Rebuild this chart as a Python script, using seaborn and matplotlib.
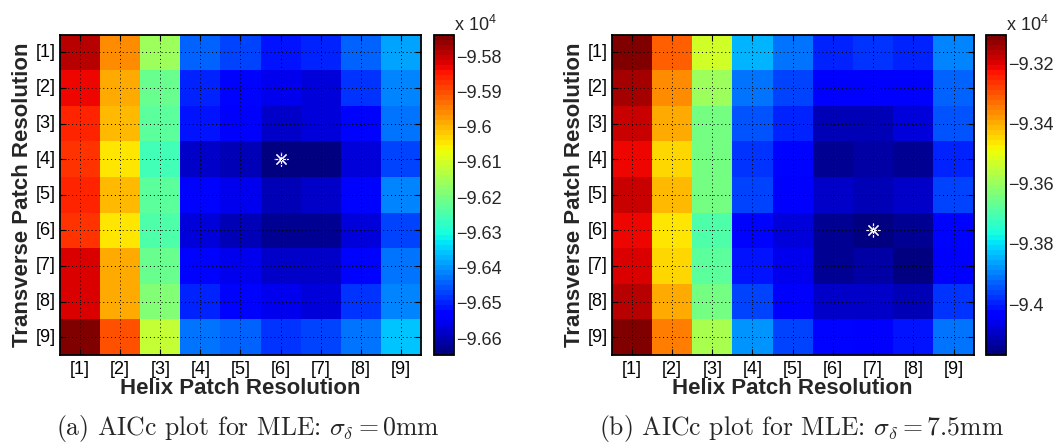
import numpy as np
import pandas as pd
import matplotlib
matplotlib.use("Agg")
import matplotlib.pyplot as plt
import seaborn as sns

# Patch-resolution levels on each axis
helix_labels = ["[1]", "[2]", "[3]", "[4]", "[5]", "[6]", "[7]", "[8]", "[9]"]
transverse_labels = ["[1]", "[2]", "[3]", "[4]", "[5]", "[6]", "[7]", "[8]", "[9]"]

# AICc values, rows = transverse resolution, columns = helix resolution
aicc_sigma_0mm = [
    [-95794, -95957, -96157, -96443, -96466, -96512, -96503, -96443, -96384],
    [-95830, -95989, -96216, -96503, -96521, -96557, -96566, -96489, -96412],
    [-95853, -96003, -96230, -96512, -96548, -96580, -96575, -96525, -96421],
    [-95880, -96048, -96262, -96580, -96593, -96648, -96639, -96566, -96475],
    [-95857, -96003, -96230, -96525, -96557, -96593, -96580, -96530, -96416],
    [-95875, -96039, -96239, -96566, -96593, -96630, -96630, -96566, -96466],
    [-95821, -95994, -96216, -96525, -96557, -96580, -96580, -96534, -96430],
    [-95812, -95984, -96184, -96503, -96525, -96557, -96566, -96489, -96412],
    [-95739, -95898, -96112, -96421, -96443, -96489, -96475, -96421, -96353],
]

aicc_sigma_7_5mm = [
    [-93104, -93317, -93535, -93850, -93908, -93996, -93983, -93996, -93889],
    [-93144, -93370, -93591, -93916, -93956, -94052, -94036, -94036, -93929],
    [-93171, -93402, -93637, -93948, -93996, -94110, -94116, -94084, -93943],
    [-93204, -93437, -93650, -93983, -94031, -94137, -94129, -94142, -93988],
    [-93184, -93416, -93650, -93969, -94041, -94102, -94110, -94102, -93964],
    [-93218, -93469, -93703, -94023, -94084, -94148, -94169, -94148, -94023],
    [-93197, -93437, -93676, -94004, -94063, -94137, -94121, -94156, -94041],
    [-93165, -93402, -93637, -93961, -94036, -94094, -94102, -94116, -93983],
    [-93115, -93338, -93570, -93884, -93961, -94023, -94036, -94009, -93903],
]

cbar_ticks_0mm = [-95800, -95900, -96000, -96100, -96200, -96300, -96400, -96500, -96600]
cbar_ticks_7_5mm = [-93200, -93400, -93600, -93800, -94000]

captions = [
    r"(a) AICc plot for MLE: $\sigma_\delta = 0$mm",
    r"(b) AICc plot for MLE: $\sigma_\delta = 7.5$mm",
]

sns.set_style("white")
plt.rcParams["font.family"] = ["Liberation Sans", "DejaVu Sans"]
plt.rcParams["mathtext.fontset"] = "cm"

W, H = 1058, 443
fig = plt.figure(figsize=(W / 100, H / 100), dpi=100)
jet64 = matplotlib.colormaps["jet"].resampled(64)


def frac_box(x0, y0, x1, y1):
    return [x0 / W, 1 - y1 / H, (x1 - x0) / W, (y1 - y0) / H]


panels = [
    dict(data=aicc_sigma_0mm, ticks=cbar_ticks_0mm, caption=captions[0],
         ax=frac_box(60, 34.5, 421, 355), cax=frac_box(434, 34.5, 453.7, 355),
         cap_x=248),
    dict(data=aicc_sigma_7_5mm, ticks=cbar_ticks_7_5mm, caption=captions[1],
         ax=frac_box(611.7, 34.5, 973.7, 355), cax=frac_box(986, 34.5, 1005.7, 355),
         cap_x=801.5),
]

for p in panels:
    df = pd.DataFrame(p["data"], index=transverse_labels, columns=helix_labels)
    ax = fig.add_axes(p["ax"])
    cax = fig.add_axes(p["cax"])
    sns.heatmap(df, ax=ax, cbar_ax=cax, cmap=jet64, linewidths=0)

    # frame, inward ticks on all sides, dotted grid over the cells
    for s in ax.spines.values():
        s.set_visible(True)
        s.set_color("black")
        s.set_linewidth(1.3)
    ax.tick_params(axis="both", direction="in", length=4, width=0.8, color="black",
                   top=True, right=True, bottom=True, left=True,
                   labelsize=13, labelcolor="black")
    ax.tick_params(axis="x", pad=4)
    ax.tick_params(axis="y", pad=3)
    plt.setp(ax.get_yticklabels(), rotation=0)
    plt.setp(ax.get_xticklabels(), rotation=0)
    ax.set_axisbelow(False)
    ax.grid(True, color="black", linestyle=(0, (1, 3)), linewidth=0.7)

    ax.set_xlabel("Helix Patch Resolution", fontsize=16, fontweight="bold", labelpad=0.5)
    ax.set_ylabel("Transverse Patch Resolution", fontsize=16, fontweight="bold", labelpad=2)

    # optimum (minimum AICc) marked with an asterisk
    vals = df.to_numpy()
    r, c = np.unravel_index(np.argmin(vals), vals.shape)
    ax.plot(c + 0.5, r + 0.5, marker=(8, 2, 0), markersize=10, color="white",
            markeredgewidth=0.8, linestyle="none")

    # colorbar in units of 1e4
    cbar = ax.collections[0].colorbar
    cbar.set_ticks(p["ticks"])
    cbar.set_ticklabels([f"{t / 1e4:g}".replace("-", "\u2212") for t in p["ticks"]])
    cbar.outline.set_visible(True)
    cbar.outline.set_edgecolor("black")
    cbar.outline.set_linewidth(1.3)
    cax.tick_params(direction="in", length=4, width=0.8, color="black",
                    left=True, right=True, labelsize=13, pad=2)
    cpos = cax.get_position()
    fig.text(cpos.x1, 1 - 31 / H, r"x 10$^{\mathregular{4}}$", ha="left",
             va="baseline", fontsize=13)

    fig.text(p["cap_x"] / W, 1 - 435 / H, p["caption"], ha="center", va="baseline",
             fontsize=18.5, family="cmr10")

fig.savefig("out.png", dpi=100)
